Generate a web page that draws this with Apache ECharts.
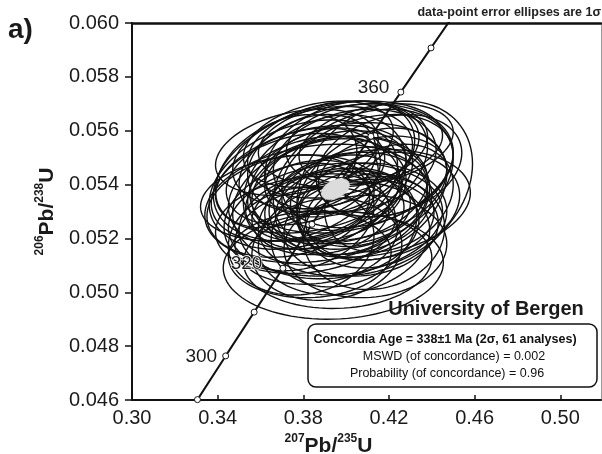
<!DOCTYPE html>
<html>
<head>
<meta charset="utf-8">
<script src="https://cdn.jsdelivr.net/npm/echarts@6/dist/echarts.min.js"></script>
<style>
  html, body { margin: 0; padding: 0; background: #fff; }
  #chart { width: 602px; height: 454px; }
</style>
</head>
<body>
<div id="chart"></div>
<script>
const FONT = '"Liberation Sans", Arial, sans-serif';

// axis ticks
const xTicks = [0.30, 0.34, 0.38, 0.42, 0.46, 0.50];
const yTicks = [0.046, 0.048, 0.050, 0.052, 0.054, 0.056, 0.058, 0.060];

// concordia curve (age in Ma, 207Pb/235U, 206Pb/238U)
const ages = [290, 300, 310, 320, 330, 340, 350, 360, 370, 380];
const concX = [0.33057, 0.34374, 0.35704, 0.37047, 0.38403, 0.39773, 0.41156, 0.42553, 0.43964, 0.45389];
const concY = [0.046014, 0.047637, 0.049264, 0.050893, 0.052524, 0.054158, 0.055794, 0.057434, 0.059075, 0.060720];
const labelledAges = [300, 320, 360];

// 61 analyses: centre, 1 sigma half-axes, error correlation
const ellX = [0.394, 0.373, 0.388, 0.418, 0.396, 0.402, 0.385, 0.410, 0.392, 0.380,
  0.404, 0.399, 0.378, 0.415, 0.389, 0.407, 0.395, 0.386, 0.401, 0.383,
  0.412, 0.397, 0.376, 0.420, 0.391, 0.405, 0.393, 0.387, 0.409, 0.381,
  0.398, 0.414, 0.372, 0.403, 0.390, 0.396, 0.384, 0.411, 0.400, 0.379,
  0.394, 0.417, 0.388, 0.406, 0.374, 0.399, 0.385, 0.408, 0.392, 0.402,
  0.377, 0.413, 0.395, 0.383, 0.420, 0.390, 0.404, 0.397, 0.386, 0.410, 0.380];
const ellY = [0.0510, 0.0532, 0.0545, 0.0540, 0.0538, 0.0533, 0.0537, 0.0545, 0.0525, 0.0543,
  0.0549, 0.0520, 0.0528, 0.0532, 0.0550, 0.0524, 0.0544, 0.0521, 0.0541, 0.0534,
  0.0537, 0.0530, 0.0539, 0.0547, 0.0516, 0.0555, 0.0534, 0.0555, 0.0517, 0.0525,
  0.0537, 0.0555, 0.0545, 0.0527, 0.0541, 0.0512, 0.0548, 0.0528, 0.0546, 0.0519,
  0.0553, 0.0543, 0.0529, 0.0536, 0.0535, 0.0524, 0.0542, 0.0542, 0.0538, 0.0555,
  0.0552, 0.0522, 0.0527, 0.0514, 0.0535, 0.0546, 0.0531, 0.0550, 0.0533, 0.0533, 0.0540];
const ellSX = [0.0514, 0.0380, 0.0500, 0.0410, 0.0420, 0.0380, 0.0400, 0.0400, 0.0420, 0.0360,
  0.0380, 0.0400, 0.0350, 0.0380, 0.0420, 0.0360, 0.0330, 0.0380, 0.0460, 0.0300,
  0.0350, 0.0300, 0.0390, 0.0340, 0.0350, 0.0330, 0.0460, 0.0350, 0.0380, 0.0420,
  0.0280, 0.0360, 0.0330, 0.0440, 0.0380, 0.0440, 0.0300, 0.0300, 0.0500, 0.0340,
  0.0400, 0.0300, 0.0320, 0.0320, 0.0420, 0.0340, 0.0460, 0.0420, 0.0360, 0.0430,
  0.0380, 0.0330, 0.0500, 0.0380, 0.0300, 0.0280, 0.0260, 0.0350, 0.0520, 0.0480, 0.0440];
const ellSY = [0.0020, 0.0019, 0.0026, 0.0031, 0.0020, 0.0019, 0.0021, 0.0021, 0.0020, 0.0018,
  0.0019, 0.0021, 0.0020, 0.0020, 0.0019, 0.0018, 0.0016, 0.0018, 0.0022, 0.0015,
  0.0024, 0.0016, 0.0020, 0.0019, 0.0019, 0.0015, 0.0024, 0.0016, 0.0019, 0.0018,
  0.0014, 0.0015, 0.0021, 0.0021, 0.0025, 0.0018, 0.0018, 0.0016, 0.0024, 0.0020,
  0.0018, 0.0015, 0.0015, 0.0018, 0.0016, 0.0022, 0.0020, 0.0026, 0.0019, 0.0016,
  0.0016, 0.0021, 0.0021, 0.0016, 0.0020, 0.0015, 0.0014, 0.0021, 0.0022, 0.0020, 0.0024];
const ellRho = [0.05, 0.20, 0.35, 0.25, 0.20, 0.15, 0.25, 0.30, 0.10, 0.30,
  0.20, 0.15, 0.20, 0.20, 0.25, 0.10, 0.30, 0.15, 0.20, 0.20,
  0.30, 0.10, 0.30, 0.25, 0.10, 0.20, 0.20, 0.30, 0.05, 0.15,
  0.20, 0.30, 0.35, 0.15, 0.30, 0.05, 0.25, 0.10, 0.25, 0.10,
  0.25, 0.20, 0.15, 0.20, 0.20, 0.20, 0.30, 0.30, 0.20, 0.20,
  0.30, 0.10, 0.15, 0.05, 0.25, 0.25, 0.15, 0.30, 0.20, 0.20, 0.30];

// concordia age ellipse (338 Ma)
const ageX = [0.39498];
const ageY = [0.05383];
const ageSX = [0.0066];
const ageSY = [0.00039];
const ageRho = [0.4];

// where the age labels sit next to their marker
const labelOffset = { 300: [0, 1], 320: [-12, -4], 360: [-3, -4] };

function ellipseRenderer(style) {
  return function (params, api) {
    const cx = api.value(0), cy = api.value(1);
    const sx = api.value(2), sy = api.value(3), r = api.value(4);
    const k = Math.sqrt(1 - r * r);
    const pts = [];
    for (let i = 0; i < 96; i++) {
      const t = (i / 96) * Math.PI * 2;
      pts.push(api.coord([cx + sx * Math.cos(t), cy + sy * (r * Math.cos(t) + k * Math.sin(t))]));
    }
    return { type: 'polygon', shape: { points: pts }, style: style };
  };
}

const ellData = ellX.map((x, i) => [x, ellY[i], ellSX[i], ellSY[i], ellRho[i]]);
const ageData = ageX.map((x, i) => [x, ageY[i], ageSX[i], ageSY[i], ageRho[i]]);
const concData = concX.map((x, i) => {
  const age = ages[i];
  const item = { value: [x, concY[i]] };
  if (labelledAges.includes(age)) {
    item.label = { show: true, offset: labelOffset[age], formatter: String(age) };
  }
  return item;
});

const sup = { fontSize: 12, fontWeight: 'bold', color: '#1a1a1a', fontFamily: FONT, verticalAlign: 'top' };
const main = { fontSize: 21, fontWeight: 'bold', color: '#1a1a1a', fontFamily: FONT, lineHeight: 26 };

const option = {
  animation: false,
  grid: { left: 132, top: 23, right: 1, bottom: 54, outerBoundsMode: 'none' },
  xAxis: [
    {
      type: 'value',
      min: 0.30,
      max: 0.519,
      position: 'bottom',
      name: '{sup|207}{main|Pb/}{sup|235}{main|U}',
      nameLocation: 'middle',
      nameGap: 26,
      nameTextStyle: { padding: [0, 76, 0, 0], rich: { sup: sup, main: main } },
      axisLine: { lineStyle: { color: '#111', width: 2 } },
      axisTick: { inside: true, length: 5, customValues: xTicks, lineStyle: { color: '#111', width: 1.5 } },
      axisLabel: {
        customValues: xTicks,
        margin: 8,
        fontSize: 20,
        color: '#1a1a1a',
        fontFamily: FONT,
        formatter: (v) => v.toFixed(2),
      },
      splitLine: { show: false },
    },
    {
      type: 'value',
      min: 0.30,
      max: 0.519,
      position: 'top',
      axisLine: { lineStyle: { color: '#111', width: 2.5 } },
      axisTick: { show: false },
      axisLabel: { show: false },
      splitLine: { show: false },
    },
  ],
  yAxis: [
    {
      type: 'value',
      min: 0.046,
      max: 0.060,
      interval: 0.002,
      position: 'left',
      name: '{sup|206}{main|Pb/}{sup|238}{main|U}',
      nameLocation: 'middle',
      nameRotate: 90,
      nameGap: 72,
      nameTextStyle: { rich: { sup: sup, main: main } },
      axisLine: { show: true, lineStyle: { color: '#111', width: 2 } },
      axisTick: { length: 7, customValues: yTicks, lineStyle: { color: '#111', width: 1.5 } },
      axisLabel: {
        customValues: yTicks,
        margin: 13,
        fontSize: 20,
        color: '#1a1a1a',
        fontFamily: FONT,
        formatter: (v) => v.toFixed(3),
      },
      splitLine: { show: false },
    },
    {
      type: 'value',
      min: 0.046,
      max: 0.060,
      position: 'right',
      axisLine: { show: true, lineStyle: { color: '#999', width: 1 } },
      axisTick: { show: false },
      axisLabel: { show: false },
      splitLine: { show: false },
    },
  ],
  series: [
    {
      type: 'custom',
      name: 'analyses',
      renderItem: ellipseRenderer({ fill: 'none', stroke: '#111', lineWidth: 1.4 }),
      encode: { x: 0, y: 1 },
      data: ellData,
    },
    {
      type: 'line',
      name: 'concordia',
      data: concData,
      clip: true,
      showAllSymbol: true,
      symbol: 'circle',
      symbolSize: 6,
      itemStyle: { color: '#fff', borderColor: '#111', borderWidth: 1 },
      lineStyle: { color: '#111', width: 2 },
      label: {
        show: false,
        position: 'left',
        distance: 5,
        fontSize: 19,
        color: '#1a1a1a',
        fontFamily: FONT,
        textBorderColor: '#fff',
        textBorderWidth: 1.5,
      },
      z: 3,
    },
    {
      type: 'custom',
      name: 'concordia age',
      renderItem: ellipseRenderer({ fill: '#dcdcdc', stroke: '#cfcfcf', lineWidth: 0.5 }),
      encode: { x: 0, y: 1 },
      data: ageData,
      z: 5,
    },
  ],
  graphic: [
    { type: 'text', x: 8, y: 30, z: 100, style: { text: 'a)', font: 'bold 28px ' + FONT, fill: '#1a1a1a', verticalAlign: 'middle' } },
    { type: 'text', x: 601, y: 13, z: 100, style: { text: 'data-point error ellipses are 1σ', font: 'bold 12.5px ' + FONT, fill: '#222', align: 'right', verticalAlign: 'middle' } },
    { type: 'text', x: 486, y: 309, z: 100, style: { text: 'University of Bergen', font: 'bold 20px ' + FONT, fill: '#1a1a1a', align: 'center', verticalAlign: 'middle' } },
    { type: 'rect', z: 100, shape: { x: 308, y: 324, width: 289, height: 63, r: 8 }, style: { fill: '#fff', stroke: '#111', lineWidth: 1.5 } },
    { type: 'text', x: 445, y: 340, z: 101, style: { text: 'Concordia Age = 338±1 Ma (2σ, 61 analyses)', font: 'bold 12.5px ' + FONT, fill: '#111', align: 'center', verticalAlign: 'middle' } },
    { type: 'text', x: 454, y: 357, z: 101, style: { text: 'MSWD (of concordance) = 0.002', font: '12.5px ' + FONT, fill: '#111', align: 'center', verticalAlign: 'middle' } },
    { type: 'text', x: 447, y: 374, z: 101, style: { text: 'Probability (of concordance) = 0.96', font: '12.5px ' + FONT, fill: '#111', align: 'center', verticalAlign: 'middle' } },
  ],
};

const myChart = echarts.init(document.getElementById('chart'));
myChart.setOption(option);
</script>
</body>
</html>
